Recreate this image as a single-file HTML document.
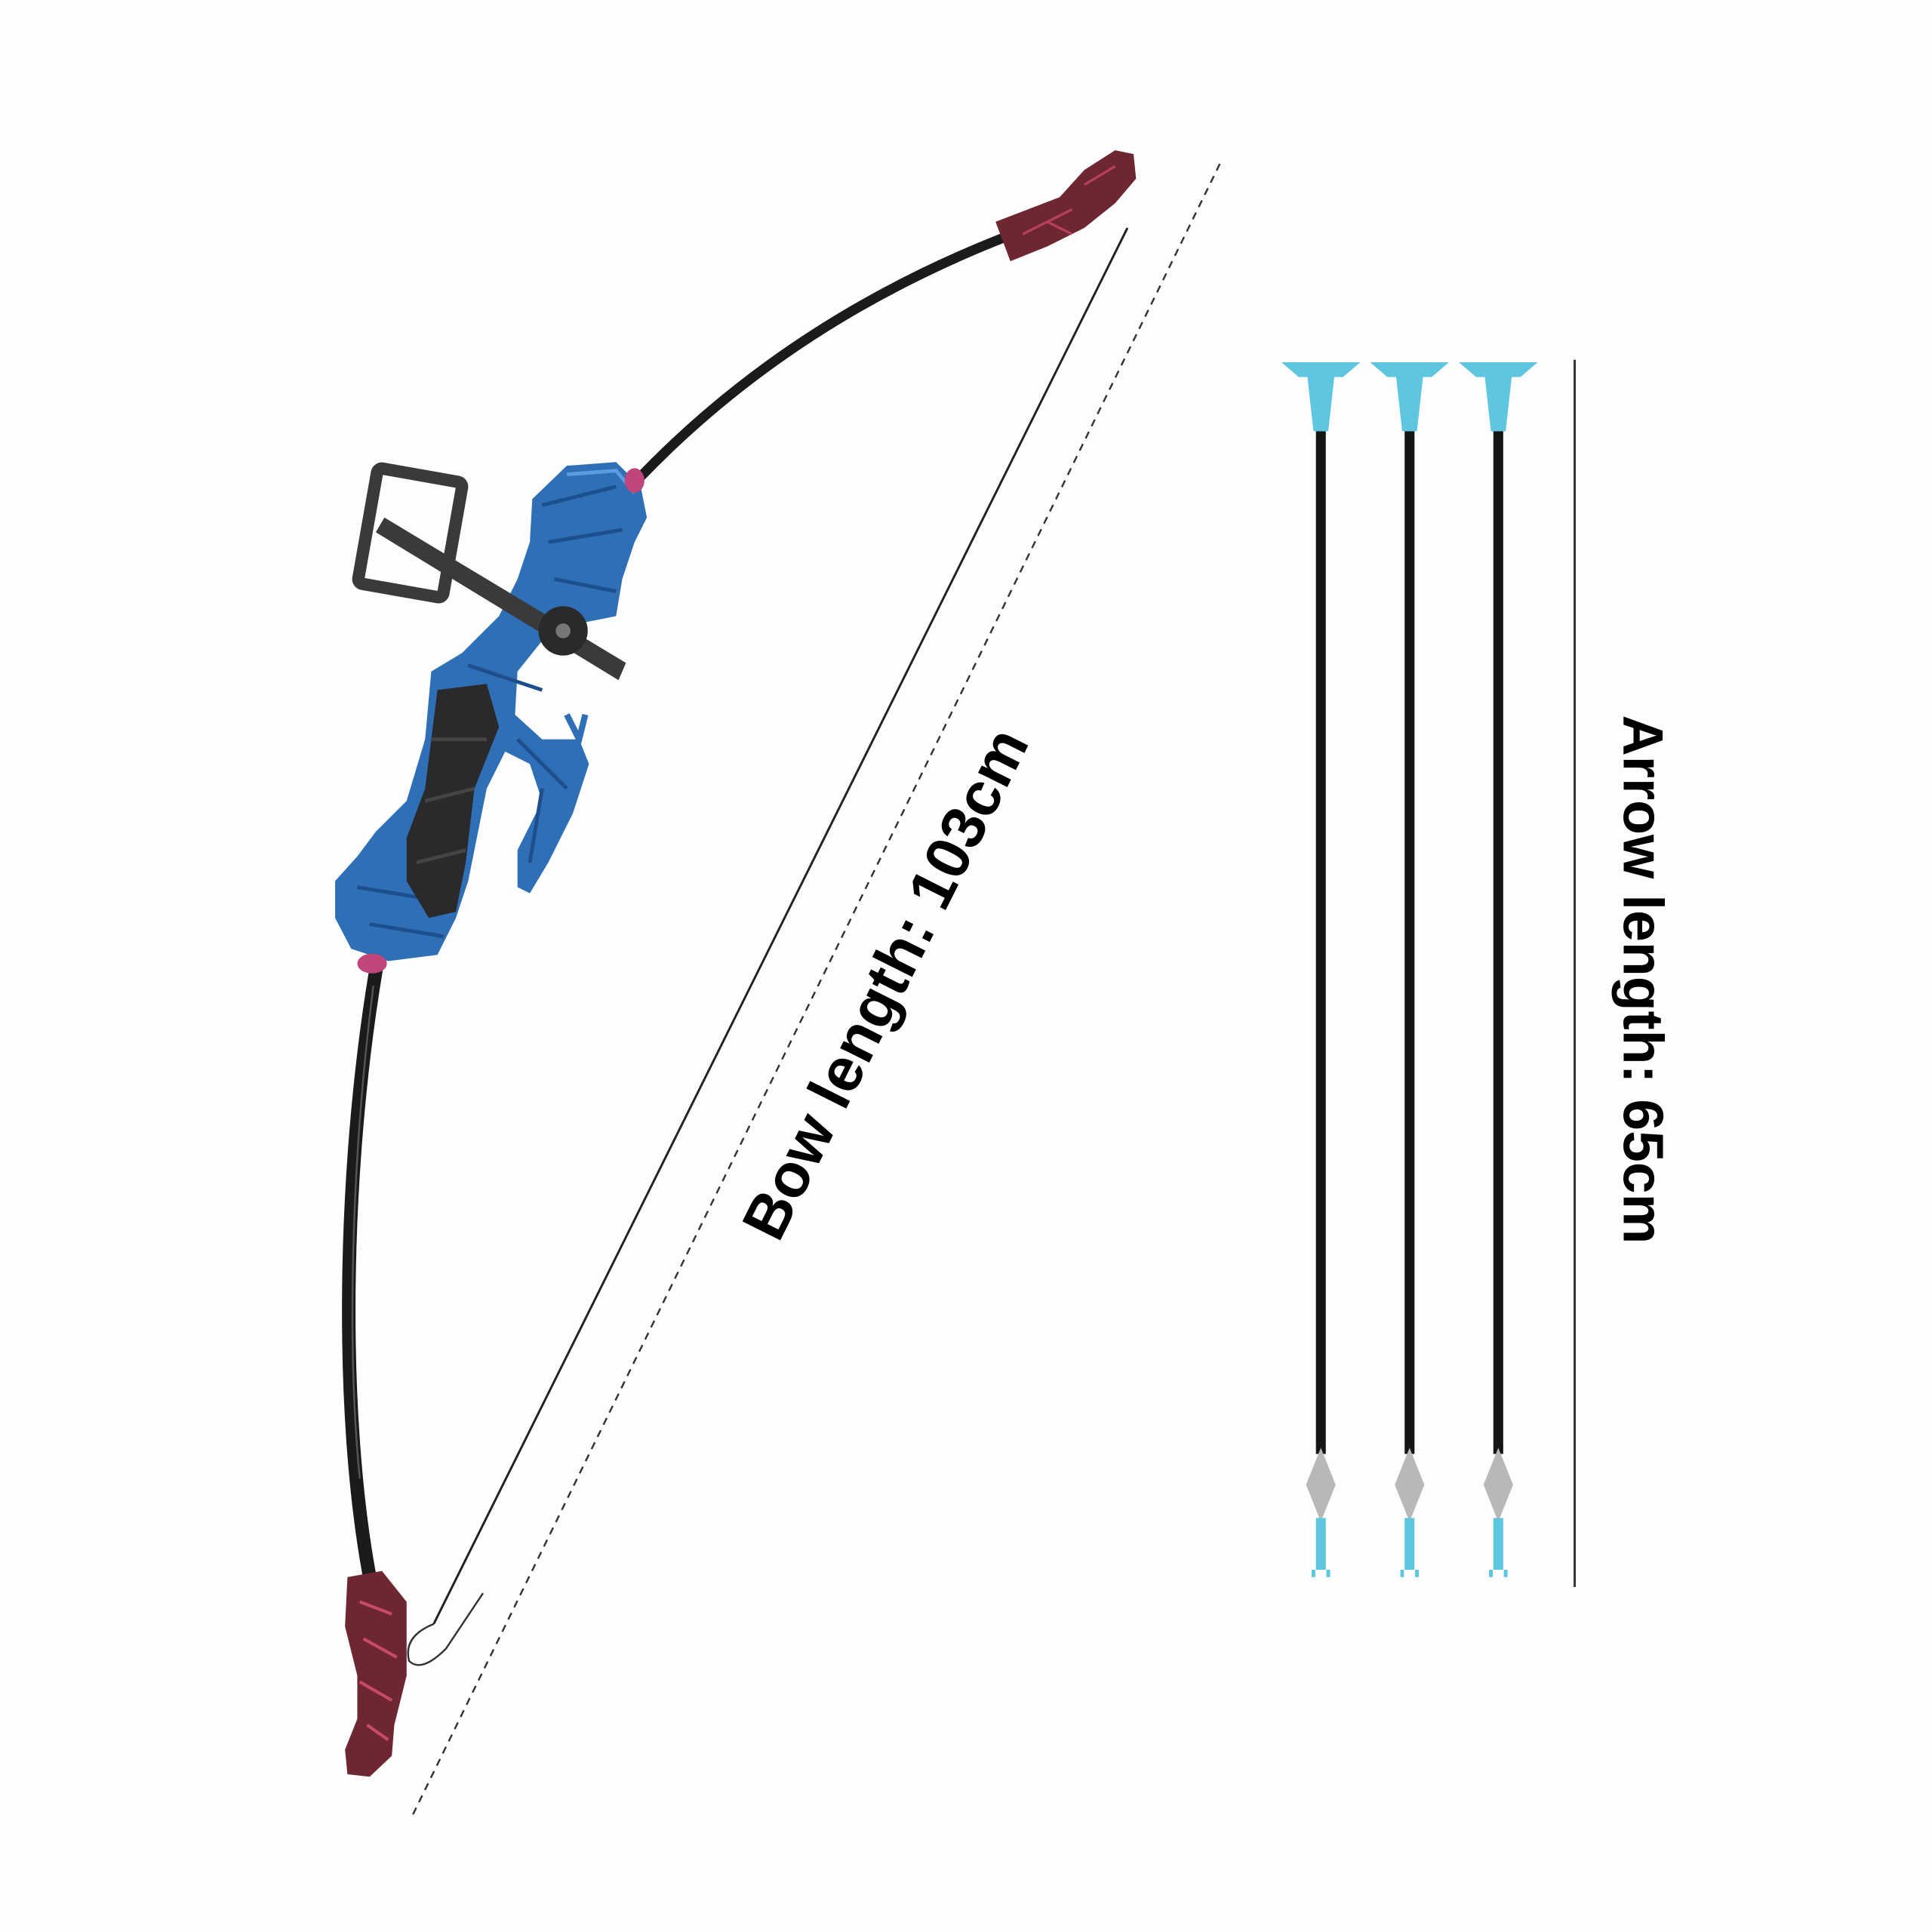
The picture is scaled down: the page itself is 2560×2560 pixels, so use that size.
<!DOCTYPE html>
<html><head><meta charset="utf-8"><style>
html,body{margin:0;padding:0;background:#fdfdfd;}
svg{display:block;}
</style></head><body>
<svg width="2560" height="2560" viewBox="0 0 1568 1568" xmlns="http://www.w3.org/2000/svg">
<rect width="1568" height="1568" fill="#fdfdfd"/>
<line x1="990" y1="133" x2="333" y2="1477" stroke="#333" stroke-width="1.5" stroke-dasharray="6,5"/>
<line x1="915" y1="185" x2="352" y2="1318" stroke="#222" stroke-width="1.8"/>
<path d="M352 1318 q-25 10 -20 30 q10 10 30 -10 q30 -45 30 -45" fill="none" stroke="#333" stroke-width="1.5"/>
<path d="M822 190 Q640 260 515 392" fill="none" stroke="#1b1b1b" stroke-width="8" stroke-linecap="round"/>
<path d="M808 180 L860 160 L880 138 L905 122 L920 125 L922 145 L905 165 L880 185 L850 200 L820 212 Z" fill="#6e2630"/>
<path d="M830 190 L870 170 M880 150 L905 135 M850 180 L870 190" stroke="#b54060" stroke-width="2" fill="none"/>
<!-- lower limb -->
<path d="M305 788 C278 950 275 1150 301 1285" fill="none" stroke="#1b1b1b" stroke-width="11" stroke-linecap="round"/>
<path d="M303 800 C284 950 282 1100 292 1200" fill="none" stroke="#555" stroke-width="1.5"/>
<path d="M282 1280 L310 1275 L330 1300 L330 1360 L320 1400 L318 1425 L300 1442 L282 1440 L280 1420 L290 1395 L290 1360 L280 1320 Z" fill="#6e2630"/>
<path d="M292 1300 L318 1310 M295 1330 L322 1345 M292 1365 L318 1380 M298 1400 L315 1412" stroke="#c84a6a" stroke-width="2.5" fill="none"/>
<path d="M432 405 L460 378 L500 375 L520 395 L525 420 L515 440 L505 470 L500 500 L475 505 L440 520 L420 545 L418 580 L440 600 L470 600 L478 620 L465 660 L445 700 L430 725 L420 720 L420 690 L440 650 L430 620 L410 610 L395 640 L380 715 L370 745 L355 775 L315 780 L285 770 L272 745 L272 715 L290 695 L305 675 L330 650 L345 600 L350 545 L375 530 L405 500 L420 470 L430 440 Z" fill="#2f6fb5"/>
<path d="M440 410 L500 395 M445 440 L505 430 M450 470 L500 480 M420 500 L470 510 M380 540 L440 560 M420 600 L460 640 M440 640 L430 700 M290 720 L350 730 M300 750 L360 760" stroke="#1c4f8c" stroke-width="3" fill="none"/>
<path d="M460 385 L500 382 L515 400" stroke="#5b9be0" stroke-width="3" fill="none"/>
<path d="M355 560 L395 555 L405 590 L385 640 L378 700 L370 740 L348 745 L330 715 L330 680 L345 640 Z" fill="#2a2a2c"/>
<path d="M350 600 L395 600 M345 650 L385 640 M338 700 L378 690" stroke="#444" stroke-width="3"/>
<path d="M312 420 L508 538 L502 552 L305 432 Z" fill="#3a3a3a"/>
<rect x="298" y="385" width="70" height="95" rx="4" fill="none" stroke="#3a3a3a" stroke-width="10" transform="rotate(10 333 432)"/>
<circle cx="457" cy="512" r="20" fill="#2a2a2a"/>
<circle cx="457" cy="512" r="6" fill="#777"/>
<path d="M460 580 L470 600 L475 580" stroke="#2f6fb5" stroke-width="5" fill="none"/>
<ellipse cx="515" cy="390" rx="8" ry="10" fill="#c0457a"/>
<ellipse cx="302" cy="782" rx="12" ry="8" fill="#c0457a"/>
<text x="722" y="800" transform="rotate(-63.4 722 800)" text-anchor="middle" dominant-baseline="middle" font-family="Liberation Sans, sans-serif" font-weight="bold" font-size="50" fill="#000">Bow length: 103cm</text>
<g>
<path d="M1040 294 L1104 294 L1090 306 L1054 306 Z" fill="#5fc6df"/>
<path d="M1061 305 L1083 305 L1078 350 L1066 350 Z" fill="#5fc6df"/>
<rect x="1068" y="350" width="8" height="830" fill="#151515"/>
<path d="M1072 1175 L1084 1205 L1072 1235 L1060 1205 Z" fill="#b8b8b8"/>
<rect x="1068" y="1232" width="8" height="42" fill="#5fc6df"/>
<path d="M1066 1274 v6 M1078 1274 v6" stroke="#5fc6df" stroke-width="3"/>
</g>
<g transform="translate(72 0)">
<path d="M1040 294 L1104 294 L1090 306 L1054 306 Z" fill="#5fc6df"/>
<path d="M1061 305 L1083 305 L1078 350 L1066 350 Z" fill="#5fc6df"/>
<rect x="1068" y="350" width="8" height="830" fill="#151515"/>
<path d="M1072 1175 L1084 1205 L1072 1235 L1060 1205 Z" fill="#b8b8b8"/>
<rect x="1068" y="1232" width="8" height="42" fill="#5fc6df"/>
<path d="M1066 1274 v6 M1078 1274 v6" stroke="#5fc6df" stroke-width="3"/>
</g>
<g transform="translate(144 0)">
<path d="M1040 294 L1104 294 L1090 306 L1054 306 Z" fill="#5fc6df"/>
<path d="M1061 305 L1083 305 L1078 350 L1066 350 Z" fill="#5fc6df"/>
<rect x="1068" y="350" width="8" height="830" fill="#151515"/>
<path d="M1072 1175 L1084 1205 L1072 1235 L1060 1205 Z" fill="#b8b8b8"/>
<rect x="1068" y="1232" width="8" height="42" fill="#5fc6df"/>
<path d="M1066 1274 v6 M1078 1274 v6" stroke="#5fc6df" stroke-width="3"/>
</g>
<line x1="1278" y1="292" x2="1278" y2="1288" stroke="#333" stroke-width="1.8"/>
<text x="1330" y="795" transform="rotate(90 1330 795)" text-anchor="middle" dominant-baseline="middle" font-family="Liberation Sans, sans-serif" font-weight="bold" font-size="46" fill="#000">Arrow length: 65cm</text>
</svg>
</body></html>
